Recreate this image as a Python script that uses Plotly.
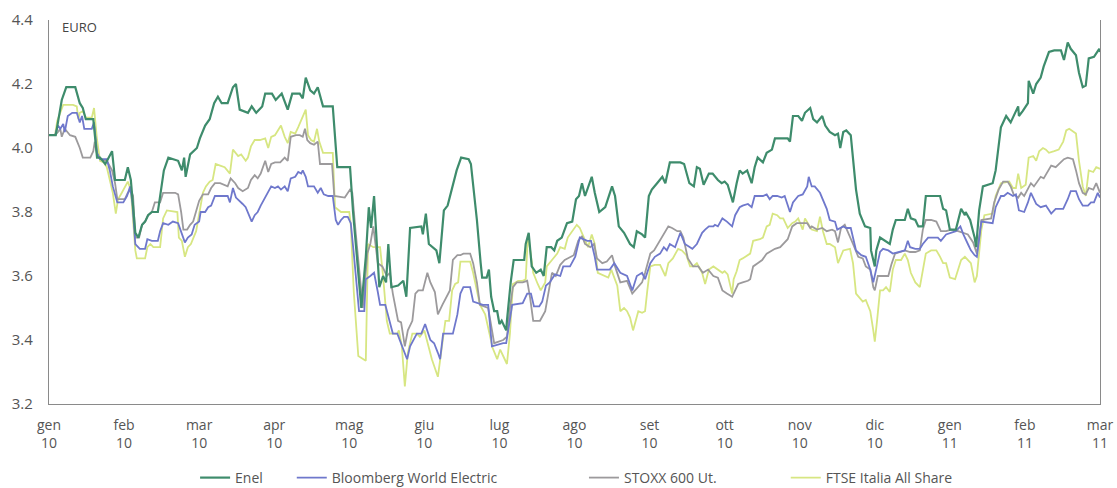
import plotly.graph_objects as go

# x positions are in months from "gen 10" (0) to "mar 11" (14)
month_labels = ["gen<br>10", "feb<br>10", "mar<br>10", "apr<br>10", "mag<br>10", "giu<br>10",
                "lug<br>10", "ago<br>10", "set<br>10", "ott<br>10", "nov<br>10", "dic<br>10",
                "gen<br>11", "feb<br>11", "mar<br>11"]
month_ticks = list(range(15))
y_ticks = [3.2, 3.4, 3.6, 3.8, 4.0, 4.2, 4.4]

enel_m = [0.00, 0.09, 0.17, 0.23, 0.35, 0.41, 0.45, 0.49, 0.59, 0.64, 0.68, 0.75, 0.84, 0.88, 1.01, 1.05, 1.09,
          1.15, 1.19, 1.24, 1.28, 1.32, 1.37, 1.45, 1.53, 1.59, 1.72, 1.77, 1.80, 1.82, 1.88, 1.97, 2.01, 2.08,
          2.14, 2.20, 2.25, 2.30, 2.38, 2.45, 2.49, 2.54, 2.65, 2.70, 2.76, 2.84, 2.88, 2.97, 3.02, 3.10, 3.18,
          3.24, 3.34, 3.38, 3.42, 3.48, 3.53, 3.58, 3.65, 3.78, 3.84, 4.01, 4.05, 4.16, 4.22, 4.26, 4.29, 4.33,
          4.40, 4.45, 4.49, 4.52, 4.56, 4.65, 4.72, 4.76, 4.81, 4.96, 4.98, 5.02, 5.06, 5.16, 5.20, 5.26, 5.31,
          5.39, 5.43, 5.49, 5.59, 5.62, 5.66, 5.70, 5.75, 5.77, 5.83, 5.86, 5.89, 5.93, 5.97, 6.00, 6.03, 6.09,
          6.10, 6.15, 6.19, 6.33, 6.35, 6.39, 6.43, 6.49, 6.55, 6.59, 6.63, 6.69, 6.73, 6.77, 6.83, 6.90, 6.97,
          7.02, 7.06, 7.10, 7.14, 7.19, 7.23, 7.27, 7.33, 7.41, 7.50, 7.54, 7.59, 7.66, 7.74, 7.79, 7.83, 7.90,
          7.94, 7.99, 8.03, 8.10, 8.17, 8.21, 8.27, 8.41, 8.46, 8.53, 8.59, 8.63, 8.67, 8.72, 8.79, 8.84, 8.91,
          8.96, 9.00, 9.04, 9.11, 9.16, 9.20, 9.24, 9.30, 9.36, 9.40, 9.44, 9.51, 9.56, 9.63, 9.67, 9.84, 9.87,
          9.91, 9.98, 10.03, 10.07, 10.14, 10.18, 10.23, 10.30, 10.34, 10.40, 10.47, 10.51, 10.54, 10.58, 10.62,
          10.68, 10.75, 10.80, 10.87, 10.94, 10.95, 11.00, 11.02, 11.07, 11.14, 11.20, 11.24, 11.28, 11.40, 11.44,
          11.48, 11.54, 11.58, 11.64, 11.68, 11.87, 11.91, 11.95, 12.00, 12.08, 12.15, 12.20, 12.21, 12.27, 12.33,
          12.35, 12.39, 12.44, 12.57, 12.61, 12.68, 12.75, 12.81, 12.85, 12.91, 12.92, 12.97, 13.04, 13.05, 13.11,
          13.15, 13.21, 13.25, 13.32, 13.39, 13.48, 13.52, 13.57, 13.61, 13.68, 13.72, 13.77, 13.81, 13.85, 13.92,
          13.99, 14.00]
enel_v = [4.04, 4.04, 4.15, 4.19, 4.19, 4.14, 4.125, 4.09, 4.09, 3.97, 3.97, 3.95, 3.99, 3.90, 3.90, 3.94, 3.90,
          3.735, 3.72, 3.76, 3.77, 3.79, 3.80, 3.80, 3.93, 3.97, 3.96, 3.93, 3.97, 3.91, 3.98, 4.00, 4.03, 4.07,
          4.09, 4.14, 4.16, 4.14, 4.14, 4.19, 4.20, 4.12, 4.11, 4.13, 4.11, 4.13, 4.17, 4.17, 4.15, 4.17, 4.12,
          4.17, 4.17, 4.155, 4.22, 4.18, 4.17, 4.19, 4.13, 4.13, 3.94, 3.94, 3.80, 3.50, 3.66, 3.815, 3.75, 3.85,
          3.565, 3.60, 3.58, 3.70, 3.565, 3.57, 3.585, 3.535, 3.75, 3.755, 3.73, 3.795, 3.70, 3.68, 3.64, 3.805, 3.82,
          3.90, 3.93, 3.97, 3.965, 3.95, 3.87, 3.775, 3.64, 3.595, 3.595, 3.62, 3.535, 3.49, 3.49, 3.45, 3.46, 3.43,
          3.46, 3.58, 3.65, 3.65, 3.70, 3.735, 3.63, 3.61, 3.62, 3.60, 3.69, 3.69, 3.68, 3.71, 3.72, 3.765, 3.77,
          3.84, 3.85, 3.89, 3.85, 3.88, 3.91, 3.86, 3.80, 3.815, 3.88, 3.85, 3.755, 3.735, 3.70, 3.69, 3.74, 3.73,
          3.72, 3.85, 3.87, 3.89, 3.91, 3.89, 3.955, 3.955, 3.95, 3.89, 3.88, 3.94, 3.935, 3.885, 3.92, 3.92, 3.90,
          3.89, 3.895, 3.885, 3.83, 3.89, 3.93, 3.92, 3.93, 3.89, 3.94, 3.97, 3.955, 3.985, 3.995, 4.03, 4.03, 4.02,
          4.10, 4.10, 4.085, 4.11, 4.125, 4.09, 4.08, 4.10, 4.07, 4.05, 4.04, 4.045, 4.00, 4.05, 4.055,
          4.04, 3.87, 3.795, 3.755, 3.75, 3.68, 3.63, 3.68, 3.72, 3.71, 3.70, 3.745, 3.775, 3.775, 3.81,
          3.78, 3.775, 3.755, 3.755, 3.85, 3.85, 3.81, 3.805, 3.745, 3.745, 3.81, 3.79, 3.80, 3.775, 3.72,
          3.69, 3.805, 3.88, 3.89, 3.93, 4.065, 4.10, 4.08, 4.10, 4.13, 4.10, 4.115, 4.14, 4.21, 4.17,
          4.20, 4.22, 4.255, 4.30, 4.305, 4.305, 4.275, 4.33, 4.31, 4.29, 4.235, 4.19, 4.195, 4.28, 4.285,
          4.31, 4.30]

bwe_m = [0.00, 0.08, 0.12, 0.15, 0.19, 0.21, 0.25, 0.31, 0.37, 0.41, 0.44, 0.47, 0.57, 0.60, 0.64, 0.68, 0.77,
         0.81, 0.85, 0.91, 0.99, 1.04, 1.08, 1.11, 1.15, 1.21, 1.28, 1.31, 1.37, 1.45, 1.48, 1.52, 1.59, 1.65,
         1.72, 1.76, 1.81, 1.85, 1.90, 1.94, 2.00, 2.02, 2.08, 2.12, 2.16, 2.21, 2.38, 2.41, 2.45, 2.49, 2.54,
         2.58, 2.62, 2.68, 2.70, 2.74, 2.78, 2.82, 2.88, 2.92, 2.96, 3.01, 3.05, 3.09, 3.14, 3.18, 3.22, 3.28,
         3.32, 3.36, 3.38, 3.42, 3.45, 3.53, 3.58, 3.62, 3.66, 3.72, 3.78, 3.82, 3.85, 3.89, 3.93, 3.98, 4.02,
         4.06, 4.10, 4.13, 4.20, 4.22, 4.28, 4.33, 4.38, 4.41, 4.48, 4.58, 4.64, 4.72, 4.77, 4.81, 4.90, 4.96,
         5.01, 5.08, 5.13, 5.18, 5.21, 5.25, 5.38, 5.44, 5.48, 5.52, 5.61, 5.65, 5.78, 5.85, 5.90, 6.05, 6.09,
         6.13, 6.17, 6.31, 6.37, 6.42, 6.46, 6.53, 6.57, 6.62, 6.67, 6.74, 6.81, 6.85, 6.94, 7.01, 7.07, 7.17,
         7.22, 7.27, 7.30, 7.47, 7.53, 7.61, 7.70, 7.77, 7.83, 7.90, 7.94, 8.01, 8.07, 8.14, 8.19, 8.23, 8.27,
         8.34, 8.41, 8.47, 8.57, 8.63, 8.70, 8.74, 8.79, 8.85, 8.87, 8.91, 8.97, 9.03, 9.10, 9.14, 9.20, 9.24,
         9.31, 9.36, 9.40, 9.47, 9.51, 9.56, 9.60, 9.64, 9.70, 9.76, 9.80, 9.87, 9.91, 9.98, 10.04, 10.10, 10.12,
         10.16, 10.20, 10.27, 10.31, 10.36, 10.40, 10.47, 10.50, 10.58, 10.62, 10.68, 10.75, 10.82, 10.88, 10.94,
         10.98, 11.02, 11.07, 11.11, 11.18, 11.24, 11.31, 11.40, 11.44, 11.47, 11.54, 11.60, 11.64, 11.71, 11.84,
         11.88, 11.95, 12.02, 12.08, 12.14, 12.18, 12.24, 12.28, 12.33, 12.36, 12.42, 12.57, 12.61, 12.68, 12.72,
         12.77, 12.84, 12.88, 12.92, 12.99, 13.04, 13.08, 13.15, 13.21, 13.28, 13.35, 13.41, 13.51, 13.57, 13.61,
         13.68, 13.72, 13.77, 13.84, 13.88, 13.92, 13.97, 14.00]
bwe_v = [4.04, 4.04, 4.07, 4.06, 4.075, 4.05, 4.10, 4.11, 4.11, 4.08, 4.10, 4.06, 4.06, 4.08, 3.985, 3.965, 3.965,
         3.93, 3.88, 3.83, 3.83, 3.85, 3.88, 3.83, 3.70, 3.685, 3.685, 3.715, 3.71, 3.71, 3.74, 3.765, 3.76, 3.77,
         3.765, 3.735, 3.705, 3.72, 3.73, 3.76, 3.77, 3.80, 3.80, 3.815, 3.82, 3.85, 3.85, 3.83, 3.875, 3.845, 3.835,
         3.825, 3.815, 3.78, 3.77, 3.79, 3.80, 3.82, 3.845, 3.86, 3.88, 3.875, 3.88, 3.87, 3.88, 3.865, 3.905, 3.91,
         3.925, 3.92, 3.93, 3.91, 3.88, 3.88, 3.86, 3.875, 3.855, 3.85, 3.85, 3.775, 3.76, 3.775, 3.785, 3.785, 3.765,
         3.67, 3.58, 3.49, 3.49, 3.59, 3.60, 3.61, 3.55, 3.51, 3.51, 3.42, 3.42, 3.37, 3.34, 3.38, 3.42, 3.42,
         3.45, 3.40, 3.39, 3.36, 3.34, 3.42, 3.42, 3.48, 3.545, 3.565, 3.565, 3.52, 3.51, 3.51, 3.38, 3.39, 3.39,
         3.45, 3.51, 3.515, 3.545, 3.545, 3.505, 3.505, 3.52, 3.57, 3.58, 3.605, 3.60, 3.63, 3.63, 3.66, 3.72, 3.71,
         3.71, 3.66, 3.62, 3.62, 3.64, 3.61, 3.60, 3.555, 3.60, 3.61, 3.59, 3.64, 3.66, 3.67, 3.69, 3.68, 3.70,
         3.69, 3.735, 3.70, 3.685, 3.70, 3.735, 3.745, 3.755, 3.755, 3.76, 3.755, 3.78, 3.77, 3.755, 3.79, 3.815, 3.82,
         3.825, 3.815, 3.85, 3.85, 3.85, 3.855, 3.84, 3.85, 3.85, 3.845, 3.85, 3.80, 3.83, 3.85, 3.855, 3.88, 3.91,
         3.88, 3.88, 3.86, 3.84, 3.81, 3.775, 3.77, 3.745, 3.755, 3.75, 3.75, 3.68, 3.665, 3.66, 3.62,
         3.58, 3.62, 3.675, 3.685, 3.68, 3.67, 3.675, 3.68, 3.71, 3.69, 3.685, 3.685, 3.70, 3.72, 3.72,
         3.71, 3.73, 3.735, 3.74, 3.755, 3.73, 3.70, 3.68, 3.665, 3.66, 3.77, 3.765, 3.815, 3.85, 3.85,
         3.86, 3.85, 3.855, 3.805, 3.80, 3.83, 3.86, 3.825, 3.815, 3.82, 3.795, 3.81, 3.81, 3.84, 3.865,
         3.865, 3.84, 3.82, 3.82, 3.83, 3.83, 3.86, 3.845]

stoxx_m = [0.00, 0.08, 0.12, 0.15, 0.17, 0.21, 0.28, 0.35, 0.41, 0.45, 0.55, 0.59, 0.61, 0.64, 0.68, 0.77, 0.84,
           0.88, 0.91, 1.01, 1.05, 1.09, 1.12, 1.15, 1.20, 1.24, 1.28, 1.32, 1.37, 1.41, 1.48, 1.52, 1.68, 1.72,
           1.76, 1.79, 1.84, 1.88, 1.92, 1.96, 2.00, 2.05, 2.12, 2.16, 2.21, 2.28, 2.32, 2.38, 2.42, 2.48, 2.52,
           2.58, 2.65, 2.69, 2.74, 2.78, 2.82, 2.88, 2.92, 2.96, 3.01, 3.08, 3.14, 3.18, 3.22, 3.29, 3.34, 3.38,
           3.41, 3.44, 3.48, 3.53, 3.58, 3.61, 3.68, 3.77, 3.80, 3.94, 4.01, 4.04, 4.08, 4.12, 4.16, 4.18, 4.24,
           4.28, 4.32, 4.34, 4.38, 4.44, 4.50, 4.54, 4.58, 4.65, 4.69, 4.74, 4.78, 4.84, 4.88, 4.92, 4.98, 5.04,
           5.08, 5.14, 5.18, 5.24, 5.30, 5.34, 5.38, 5.44, 5.48, 5.52, 5.61, 5.65, 5.70, 5.74, 5.85, 5.90, 5.93,
           6.05, 6.10, 6.14, 6.18, 6.23, 6.31, 6.37, 6.41, 6.45, 6.54, 6.61, 6.65, 6.70, 6.75, 6.81, 6.87, 6.94,
           6.99, 7.05, 7.10, 7.14, 7.21, 7.26, 7.30, 7.37, 7.43, 7.50, 7.54, 7.61, 7.70, 7.77, 7.83, 7.90, 7.94,
           8.01, 8.06, 8.11, 8.18, 8.25, 8.30, 8.37, 8.41, 8.45, 8.51, 8.58, 8.65, 8.71, 8.78, 8.85, 8.91, 8.97,
           9.03, 9.10, 9.14, 9.18, 9.24, 9.31, 9.34, 9.38, 9.44, 9.50, 9.56, 9.63, 9.67, 9.74, 9.78, 9.84, 9.90,
           9.96, 10.10, 10.14, 10.16, 10.23, 10.30, 10.36, 10.43, 10.47, 10.51, 10.55, 10.60, 10.64, 10.71, 10.78,
           10.84, 10.88, 10.94, 10.98, 11.00, 11.04, 11.11, 11.18, 11.22, 11.27, 11.34, 11.40, 11.47, 11.54, 11.60,
           11.64, 11.68, 11.75, 11.82, 11.88, 11.95, 12.02, 12.11, 12.18, 12.24, 12.31, 12.36, 12.42, 12.55, 12.59,
           12.65, 12.71, 12.77, 12.81, 12.85, 12.91, 12.95, 12.99, 13.04, 13.08, 13.12, 13.17, 13.21, 13.25, 13.31,
           13.35, 13.41, 13.48, 13.52, 13.57, 13.64, 13.68, 13.72, 13.77, 13.81, 13.85, 13.91, 13.95, 14.00]
stoxx_v = [4.04, 4.04, 4.05, 4.06, 4.035, 4.06, 4.04, 4.035, 4.00, 3.97, 3.97, 3.99, 4.02, 3.98, 3.965, 3.96, 3.93,
           3.89, 3.84, 3.84, 3.86, 3.87, 3.85, 3.72, 3.72, 3.76, 3.77, 3.79, 3.80, 3.83, 3.83, 3.86, 3.86, 3.855,
           3.80, 3.745, 3.745, 3.76, 3.77, 3.80, 3.835, 3.855, 3.855, 3.875, 3.89, 3.89, 3.885, 3.88, 3.905, 3.89, 3.875,
           3.865, 3.875, 3.90, 3.915, 3.905, 3.92, 3.96, 3.925, 3.95, 3.955, 3.955, 3.97, 3.96, 4.035, 4.04, 4.04, 4.035,
           4.06, 4.025, 4.015, 4.01, 4.02, 3.95, 3.95, 3.95, 3.85, 3.845, 3.87, 3.86, 3.75, 3.64, 3.535, 3.50, 3.67,
           3.70, 3.755, 3.72, 3.64, 3.63, 3.60, 3.61, 3.545, 3.46, 3.455, 3.38, 3.43, 3.46, 3.545, 3.555, 3.555, 3.61,
           3.58, 3.55, 3.48, 3.51, 3.54, 3.555, 3.65, 3.665, 3.665, 3.67, 3.67, 3.64, 3.58, 3.51, 3.50, 3.43, 3.39,
           3.40, 3.41, 3.50, 3.565, 3.58, 3.58, 3.585, 3.53, 3.46, 3.46, 3.49, 3.55, 3.61, 3.60, 3.635, 3.65, 3.66,
           3.665, 3.71, 3.725, 3.70, 3.69, 3.70, 3.655, 3.64, 3.645, 3.665, 3.63, 3.58, 3.585, 3.545, 3.56, 3.58, 3.61,
           3.67, 3.68, 3.70, 3.725, 3.755, 3.75, 3.74, 3.74, 3.72, 3.655, 3.63, 3.63, 3.61, 3.62, 3.60, 3.595, 3.555,
           3.545, 3.535, 3.555, 3.575, 3.58, 3.585, 3.59, 3.63, 3.64, 3.65, 3.67, 3.68, 3.685, 3.69, 3.70, 3.715, 3.755,
           3.765, 3.765, 3.75, 3.755, 3.745, 3.75, 3.74, 3.745, 3.74, 3.705, 3.75, 3.76, 3.74, 3.70, 3.66,
           3.655, 3.63, 3.62, 3.565, 3.555, 3.60, 3.60, 3.60, 3.635, 3.67, 3.675, 3.68, 3.675, 3.675, 3.68,
           3.745, 3.775, 3.775, 3.77, 3.74, 3.74, 3.745, 3.74, 3.735, 3.73, 3.705, 3.67, 3.775, 3.78, 3.83,
           3.87, 3.895, 3.895, 3.88, 3.855, 3.845, 3.86, 3.85, 3.875, 3.89, 3.88, 3.895, 3.91, 3.905, 3.93,
           3.945, 3.94, 3.955, 3.965, 3.97, 3.965, 3.93, 3.89, 3.86, 3.855, 3.875, 3.87, 3.89, 3.86]

ftse_m = [0.00, 0.08, 0.11, 0.15, 0.19, 0.32, 0.37, 0.39, 0.41, 0.45, 0.49, 0.57, 0.60, 0.64, 0.68, 0.73, 0.77,
          0.81, 0.85, 0.89, 0.92, 0.97, 1.01, 1.05, 1.09, 1.15, 1.17, 1.28, 1.31, 1.35, 1.39, 1.48, 1.52, 1.57,
          1.71, 1.73, 1.77, 1.81, 1.85, 1.89, 1.96, 2.00, 2.05, 2.09, 2.14, 2.18, 2.22, 2.28, 2.34, 2.41, 2.45,
          2.52, 2.56, 2.62, 2.65, 2.69, 2.74, 2.81, 2.88, 2.92, 2.96, 3.01, 3.05, 3.09, 3.14, 3.18, 3.22, 3.28,
          3.32, 3.36, 3.41, 3.42, 3.45, 3.49, 3.53, 3.57, 3.60, 3.65, 3.78, 3.81, 3.89, 4.00, 4.02, 4.06, 4.12,
          4.22, 4.25, 4.32, 4.41, 4.45, 4.50, 4.54, 4.64, 4.66, 4.70, 4.74, 4.78, 4.84, 4.90, 4.94, 5.00, 5.05,
          5.10, 5.18, 5.22, 5.28, 5.33, 5.37, 5.41, 5.45, 5.48, 5.61, 5.65, 5.70, 5.74, 5.81, 5.87, 5.91, 5.97,
          6.01, 6.05, 6.10, 6.14, 6.18, 6.25, 6.31, 6.35, 6.38, 6.41, 6.45, 6.51, 6.55, 6.61, 6.63, 6.70, 6.77,
          6.81, 6.87, 6.91, 6.98, 7.03, 7.07, 7.11, 7.18, 7.23, 7.27, 7.31, 7.41, 7.45, 7.49, 7.53, 7.57, 7.61,
          7.66, 7.70, 7.74, 7.78, 7.82, 7.85, 7.90, 7.94, 7.97, 8.01, 8.07, 8.14, 8.21, 8.25, 8.31, 8.38, 8.43,
          8.49, 8.54, 8.58, 8.63, 8.70, 8.74, 8.79, 8.85, 8.91, 8.97, 9.00, 9.04, 9.10, 9.12, 9.16, 9.20, 9.24,
          9.30, 9.34, 9.38, 9.47, 9.51, 9.56, 9.60, 9.64, 9.70, 9.74, 9.78, 9.84, 9.90, 9.94, 9.98, 10.04, 10.07,
          10.11, 10.16, 10.23, 10.27, 10.31, 10.36, 10.40, 10.47, 10.51, 10.55, 10.58, 10.67, 10.71, 10.75, 10.81,
          10.84, 10.88, 10.94, 10.98, 11.00, 11.03, 11.07, 11.11, 11.15, 11.20, 11.24, 11.28, 11.35, 11.40, 11.44,
          11.48, 11.54, 11.60, 11.64, 11.68, 11.75, 11.82, 11.87, 11.91, 11.95, 12.00, 12.07, 12.11, 12.15, 12.20,
          12.24, 12.28, 12.33, 12.36, 12.42, 12.46, 12.57, 12.61, 12.68, 12.79, 12.84, 12.88, 12.91, 12.95, 13.01,
          13.05, 13.11, 13.15, 13.19, 13.24, 13.28, 13.32, 13.39, 13.45, 13.51, 13.55, 13.59, 13.64, 13.68, 13.72,
          13.77, 13.81, 13.85, 13.91, 13.95, 14.00]
ftse_v = [4.04, 4.04, 4.085, 4.11, 4.135, 4.135, 4.13, 4.09, 4.11, 4.115, 4.095, 4.095, 4.125, 4.025, 3.96, 3.955, 3.94,
          3.90, 3.86, 3.795, 3.84, 3.86, 3.88, 3.895, 3.87, 3.68, 3.655, 3.655, 3.69, 3.70, 3.69, 3.69, 3.78, 3.805,
          3.80, 3.72, 3.71, 3.66, 3.69, 3.70, 3.74, 3.79, 3.86, 3.88, 3.895, 3.90, 3.95, 3.945, 3.94, 3.92, 3.995,
          3.975, 3.98, 3.96, 3.97, 4.005, 4.025, 4.025, 4.03, 4.00, 4.035, 4.04, 4.055, 4.07, 4.035, 4.015, 4.05, 4.045,
          4.065, 4.085, 4.11, 4.12, 4.04, 4.025, 4.02, 4.06, 4.02, 3.985, 3.985, 3.815, 3.80, 3.80, 3.76, 3.55, 3.35,
          3.335, 3.70, 3.69, 3.69, 3.60, 3.46, 3.42, 3.42, 3.43, 3.38, 3.255, 3.36, 3.42, 3.42, 3.41, 3.43, 3.38,
          3.34, 3.285, 3.35, 3.46, 3.46, 3.555, 3.575, 3.58, 3.645, 3.645, 3.61, 3.55, 3.51, 3.48, 3.42, 3.375, 3.34,
          3.37, 3.35, 3.325, 3.42, 3.575, 3.585, 3.585, 3.59, 3.73, 3.68, 3.61, 3.575, 3.555, 3.58, 3.63, 3.65, 3.67,
          3.69, 3.685, 3.72, 3.745, 3.76, 3.75, 3.73, 3.69, 3.73, 3.70, 3.61, 3.60, 3.595, 3.62, 3.595, 3.57, 3.49,
          3.50, 3.49, 3.47, 3.43, 3.47, 3.49, 3.485, 3.49, 3.555, 3.63, 3.635, 3.635, 3.60, 3.64, 3.655, 3.685, 3.68,
          3.665, 3.63, 3.63, 3.64, 3.61, 3.575, 3.62, 3.63, 3.62, 3.61, 3.615, 3.605, 3.545, 3.59, 3.615, 3.65, 3.655,
          3.665, 3.67, 3.71, 3.715, 3.72, 3.755, 3.76, 3.795, 3.79, 3.78, 3.78, 3.75, 3.765, 3.77, 3.78, 3.745, 3.78,
          3.765, 3.745, 3.74, 3.785, 3.74, 3.70, 3.70, 3.69, 3.64, 3.665, 3.68, 3.685, 3.64, 3.545, 3.53,
          3.52, 3.525, 3.49, 3.43, 3.395, 3.46, 3.555, 3.555, 3.565, 3.55, 3.62, 3.65, 3.65, 3.67, 3.65,
          3.61, 3.58, 3.565, 3.62, 3.67, 3.68, 3.68, 3.66, 3.64, 3.64, 3.595, 3.59, 3.62, 3.65, 3.66,
          3.65, 3.64, 3.58, 3.60, 3.745, 3.79, 3.795, 3.85, 3.89, 3.895, 3.875, 3.875, 3.92, 3.875, 3.885,
          3.97, 3.975, 3.96, 3.99, 4.00, 3.995, 3.985, 3.99, 3.995, 4.02, 4.055, 4.06, 4.05, 4.045, 3.96,
          3.88, 3.85, 3.93, 3.925, 3.94, 3.935]

series = [
    ("Enel", enel_m, enel_v, "#3e8c6c", 2.2, "legend"),
    ("Bloomberg World Electric", bwe_m, bwe_v, "#6f78cc", 1.8, "legend2"),
    ("STOXX 600 Ut.", stoxx_m, stoxx_v, "#9c9a9c", 1.8, "legend3"),
    ("FTSE Italia All Share", ftse_m, ftse_v, "#d7e682", 1.8, "legend4"),
]

fig = go.Figure()
# draw order: light series first, Enel on top
for name, xs, ys, col, w, lg in [series[3], series[2], series[1], series[0]]:
    fig.add_trace(go.Scatter(x=xs, y=ys, mode="lines", name=name,
                             line=dict(color=col, width=w), legend=lg))

leg_font = dict(family="Open Sans, sans-serif", size=14, color="#555555")
common = dict(orientation="h", yref="container", yanchor="middle", y=0.0205, xanchor="left",
              font=leg_font, bgcolor="rgba(0,0,0,0)", itemwidth=30)

fig.update_layout(
    width=1117, height=488,
    margin=dict(l=49, r=17, t=20, b=84, autoexpand=False),
    paper_bgcolor="white", plot_bgcolor="white",
    showlegend=True,
    legend=dict(x=0.139, **common),
    legend2=dict(x=0.231, **common),
    legend3=dict(x=0.509, **common),
    legend4=dict(x=0.701, **common),
    xaxis=dict(range=[0, 14], tickvals=month_ticks, ticktext=month_labels, automargin=False,
               showgrid=False, zeroline=False, showline=True, linecolor="#8a8a8a", linewidth=1.2,
               ticks="", ticklabelstandoff=8,
               tickfont=dict(family="Open Sans, sans-serif", size=14, color="#555555")),
    yaxis=dict(range=[3.2, 4.4], tickvals=y_ticks, tickformat=".1f", automargin=False,
               showgrid=False, zeroline=False, showline=True, mirror=True, linecolor="#8a8a8a", linewidth=1.2,
               ticks="", ticklabelstandoff=12,
               tickfont=dict(family="Open Sans, sans-serif", size=15, color="#555555")),
    annotations=[dict(text="EURO", xref="paper", yref="paper", x=0.01, y=1.0, xanchor="left", yanchor="top",
                      yshift=4, showarrow=False,
                      font=dict(family="Open Sans, sans-serif", size=13, color="#444444"))],
)

fig.write_html("out.html", config={"displayModeBar": False},
               post_script="document.body.style.margin='0';document.documentElement.style.overflow='hidden';")
